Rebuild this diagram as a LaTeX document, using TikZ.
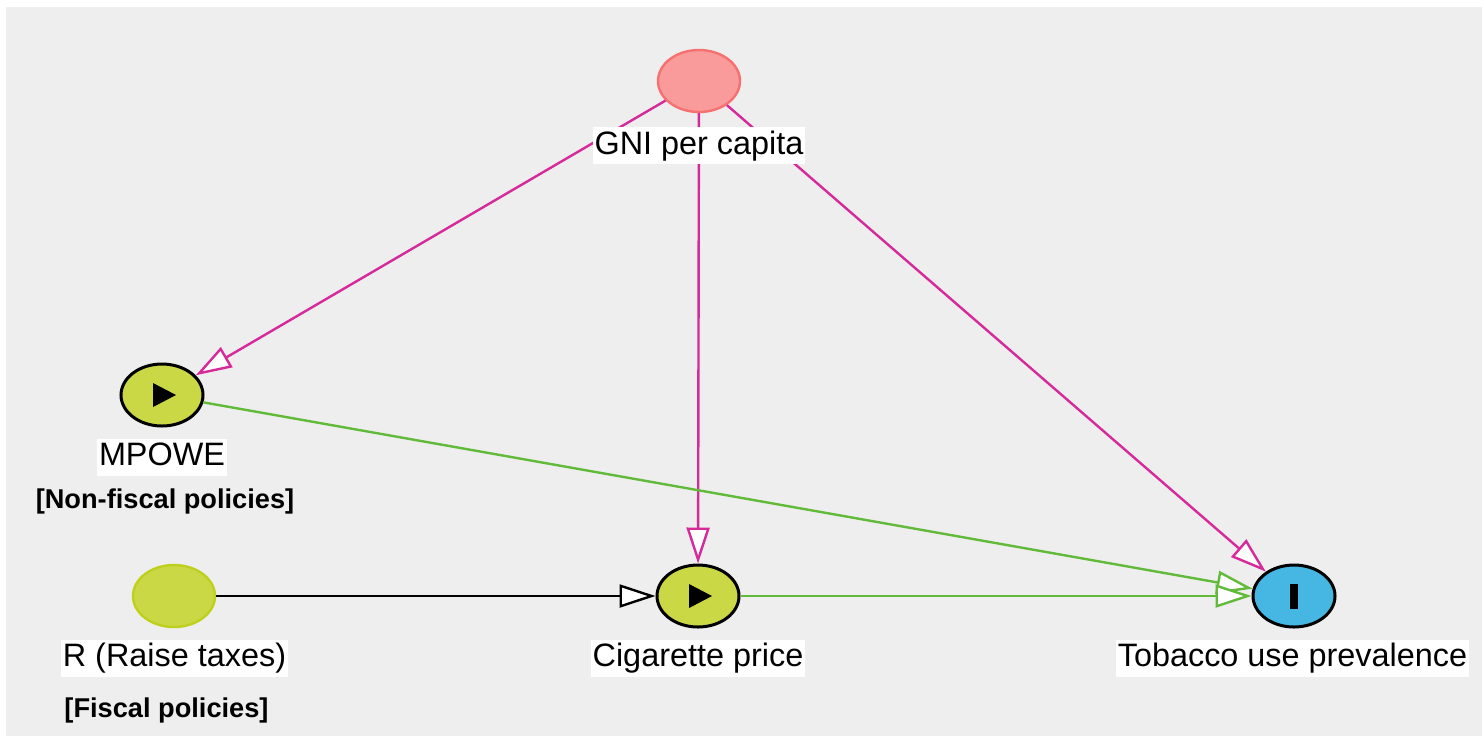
\documentclass[tikz,border=0pt]{standalone}
\usepackage{fontspec}
\setmainfont{Liberation Sans}
\usetikzlibrary{shapes.geometric,arrows.meta}

\definecolor{bggray}{RGB}{238,238,238}
\definecolor{causepink}{RGB}{214,41,154}
\definecolor{effgreen}{RGB}{98,186,58}
\definecolor{gnifill}{RGB}{250,155,155}
\definecolor{gniline}{RGB}{246,112,112}
\definecolor{expfill}{RGB}{203,216,70}
\definecolor{expline}{RGB}{190,208,30}
\definecolor{outfill}{RGB}{70,183,226}

\tikzset{
  var/.style={ellipse, minimum width=41pt, minimum height=31pt, inner sep=0pt},
  exposure/.style={var, fill=expfill, draw=black, line width=1.5pt},
  outcome/.style={var, fill=outfill, draw=black, line width=1.5pt},
  ancestor/.style={var, fill=gnifill, draw=gniline, line width=1.2pt},
  plainvar/.style={var, fill=expfill, draw=expline, line width=1.2pt},
  varlabel/.style={fill=white, inner xsep=1pt, inner ysep=1.5pt,
    text height=12pt, text depth=3.5pt, font=\fontsize{16.2}{19}\selectfont},
  grouplabel/.style={inner sep=0pt, font=\fontsize{13.6}{16}\selectfont\bfseries},
  headtip/.style={-{Triangle[length=18pt, width=11.5pt, fill=white]}},
  biasing/.style={headtip, draw=causepink, line width=1.2pt},
  causal/.style={headtip, draw=effgreen, line width=1.2pt},
  neutral/.style={headtip, draw=black, line width=1.2pt},
}

\begin{document}
\begin{tikzpicture}[x=0.5pt, y=-0.5pt]
  % canvas
  \useasboundingbox (0,0) rectangle (1482,736);
  \fill[white] (0,0) rectangle (1482,736);
  \fill[bggray] (6,7) rectangle (1482,736);

  % variables
  \node[ancestor] (gni) at (699,81) {};
  \node[exposure] (mp)  at (162,395) {};
  \node[plainvar] (r)   at (174,596) {};
  \node[exposure] (cp)  at (698,596) {};
  \node[outcome]  (tb)  at (1294,596) {};

  % markers inside the nodes
  \fill ([shift={(-9,-12)}]mp.center) -- ++(0,24) -- ++(23,-12) -- cycle;
  \fill ([shift={(-9,-12)}]cp.center) -- ++(0,24) -- ++(23,-12) -- cycle;
  \fill ([shift={(-4,-12.5)}]tb.center) rectangle ++(8,25);

  % arrows
  \draw[biasing] (gni) -- (mp);
  \draw[biasing] (gni) -- (cp);
  \draw[biasing] (gni) -- (tb);
  \draw[causal]  (mp)  -- (tb);
  \draw[causal]  (cp)  -- (tb);
  \draw[neutral] (r)   -- (cp);

  % labels
  \node[varlabel] (gnil) at (699,145.5) {GNI per capita};
  \node[varlabel] (mpl)  at (162,457) {MPOWE};
  \node[varlabel] (rl)   at (174.5,658) {R (Raise taxes)};
  \node[varlabel] (cpl)  at (698,658) {Cigarette price};
  \node[varlabel] (tbl)  at (1292.5,658) {Tobacco use prevalence};
  \node[grouplabel] (nfp) at (165,501) {[Non-fiscal policies]};
  \node[grouplabel] (fp)  at (166.5,710) {[Fiscal policies]};
\end{tikzpicture}
\end{document}
